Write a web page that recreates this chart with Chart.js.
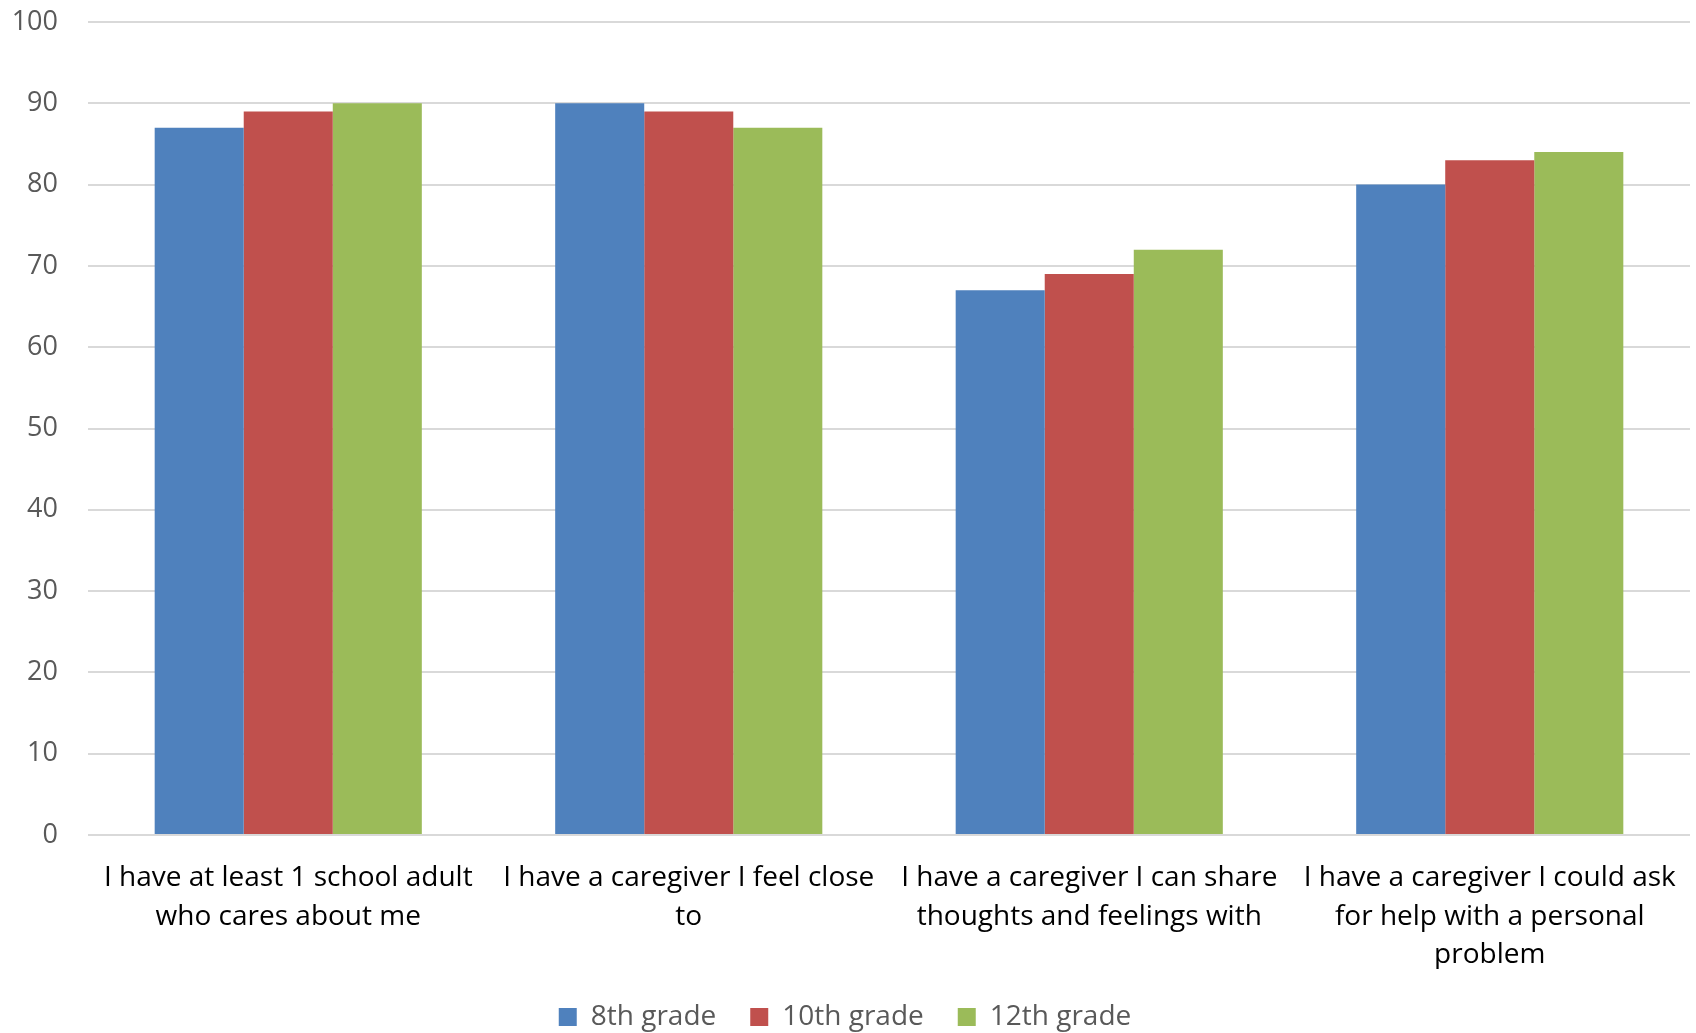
<!DOCTYPE html>
<html>
<head>
<meta charset="utf-8">
<script src="https://cdn.jsdelivr.net/npm/chart.js@4"></script>
<style>
html,body{margin:0;padding:0;background:#fff;}
#wrap{width:1696px;height:1033px;position:relative;}
</style>
</head>
<body>
<div id="wrap"><canvas id="c" width="1696" height="1033"></canvas></div>
<script>
const categories = [
  ["I have at least 1 school adult", "who cares about me"],
  ["I have a caregiver I feel close", "to"],
  ["I have a caregiver I can share", "thoughts and feelings with"],
  ["I have a caregiver I could ask", "for help with a personal", "problem"]
];
const seriesNames = ["8th grade", "10th grade", "12th grade"];
const grade8 = [87, 90, 67, 80];
const grade10 = [89, 89, 69, 83];
const grade12 = [90, 87, 72, 84];
const yTicks = [0, 10, 20, 30, 40, 50, 60, 70, 80, 90, 100];
const colors = ["#4F81BD", "#C0504D", "#9BBB59"];

const FONT = "'Open Sans', 'DejaVu Sans', sans-serif";

new Chart(document.getElementById('c'), {
  type: 'bar',
  data: {
    labels: categories,
    datasets: [grade8, grade10, grade12].map((d, i) => ({
      label: seriesNames[i],
      data: d,
      backgroundColor: colors[i],
      borderWidth: 0,
      categoryPercentage: 0.667,
      barPercentage: 1.0
    }))
  },
  options: {
    responsive: false,
    animation: false,
    devicePixelRatio: 1,
    layout: { padding: { left: 0, right: 6, top: 22, bottom: -8 } },
    plugins: {
      tooltip: { enabled: false },
      legend: {
        position: 'bottom',
        labels: {
          color: '#595959',
          font: { family: FONT, size: 28 },
          boxWidth: 18,
          boxHeight: 18,
          padding: 34,
          useBorderRadius: false
        }
      }
    },
    scales: {
      x: {
        grid: { display: false },
        border: { display: false },
        ticks: {
          color: '#000000',
          font: { family: FONT, size: 28, lineHeight: 1.37 },
          padding: 16,
          maxRotation: 0,
          autoSkip: false
        },
        afterFit: (s) => { s.height = 134; }
      },
      y: {
        min: 0,
        max: 100,
        afterBuildTicks: (s) => { s.ticks = yTicks.map(v => ({ value: v })); },
        grid: { color: '#d9d9d9', lineWidth: 2, drawTicks: false },
        border: { display: false },
        ticks: {
          color: '#595959',
          font: { family: FONT, size: 27 },
          padding: 30
        },
        afterFit: (s) => { s.width = 88; s.paddingTop = 0; s.paddingBottom = 0; }
      }
    }
  }
});
</script>
</body>
</html>
